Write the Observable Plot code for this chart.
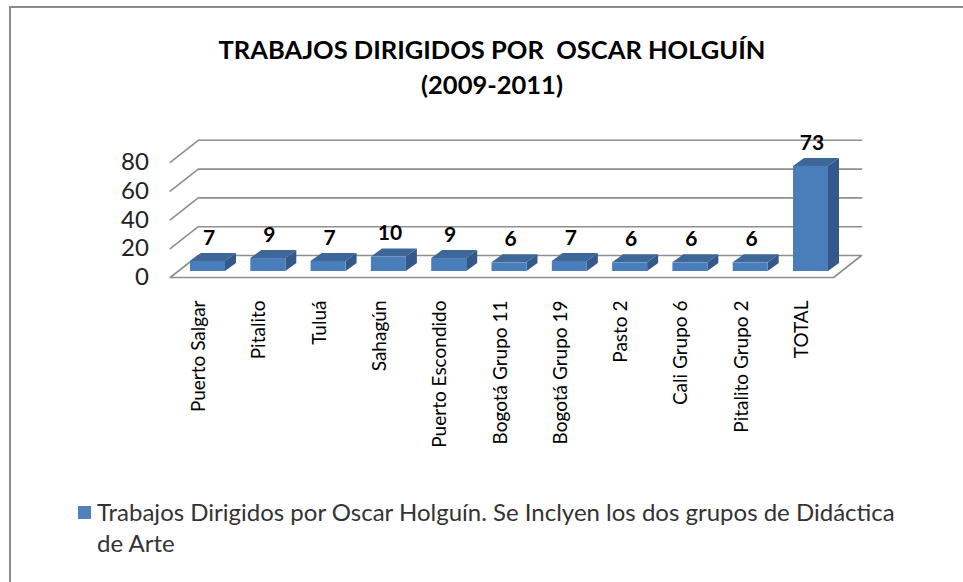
<!DOCTYPE html>
<html><head><meta charset="utf-8">
<script src="https://cdn.jsdelivr.net/npm/d3@7"></script>
<script src="https://cdn.jsdelivr.net/npm/@observablehq/plot@0.6"></script>
<style>
body{margin:0;background:#fff;}
#wrap{position:relative;width:963px;height:582px;overflow:hidden;font-family:Lato,"Open Sans",sans-serif;background:#fff;}
#border{position:absolute;left:9px;top:6px;right:-10px;bottom:-10px;border-top:2px solid #8c8c8c;border-left:2px solid #8c8c8c;}
#chart{position:absolute;left:0;top:0;}
#title{position:absolute;left:0;width:984px;top:32px;text-align:center;font-weight:bold;font-size:25.5px;line-height:35px;white-space:pre;color:#000;}
#legend{position:absolute;left:78px;top:496px;width:860px;}
#legend .sw{position:absolute;left:0;top:10px;width:13px;height:13px;background:#4F81BD;}
#legend .tx{position:absolute;left:19px;top:0;width:800px;font-size:24px;line-height:31px;color:#333;}
</style></head>
<body>
<div id="wrap">
  <div id="border"></div>
  <div id="chart"></div>
  <div id="title"></div>
  <div id="legend"><div class="sw"></div><div class="tx"></div></div>
</div>
<script>
const categories = ["Puerto Salgar","Pitalito","Tuluá","Sahagún","Puerto Escondido","Bogotá Grupo 11","Bogotá Grupo 19","Pasto 2","Cali Grupo 6","Pitalito Grupo 2","TOTAL"];
const values = [7, 9, 7, 10, 9, 6, 7, 6, 6, 6, 73];
const yTicks = [0, 20, 40, 60, 80];
const seriesName = "Trabajos Dirigidos por Oscar Holguín. Se Inclyen los dos grupos de Didáctica de Arte";
const titleLines = ["TRABAJOS DIRIGIDOS POR  OSCAR HOLGUÍN", "(2009-2011)"];

// layout (pixels)
const W = 963, H = 470;
const mLeft = 177.35, mRight = 122.35, mTop = 155.8, mBottom = H - 271;
const xDomain = [-0.5, categories.length - 0.5];
const yDomain = [0, 80];
const kx = (W - mLeft - mRight) / (xDomain[1] - xDomain[0]);
const ky = (H - mTop - mBottom) / (yDomain[1] - yDomain[0]);
// oblique projection offsets, converted from pixels to scale units
const off = (px, py) => [px / kx, -py / ky];
const [fdx, fdy] = off(-7.6, 6);     // front edge of floor
const [wdx, wdy] = off(20.4, -16);   // back wall
const [bdx, bdy] = off(11, -8);      // bar depth
const hb = 17.5 / kx;                // half bar width

const rows = categories.map((c, i) => ({i, c, v: values[i]}));
const sideFaces = rows.flatMap(d => [
  {i: d.i, x: d.i + hb, y1: 0, y2: d.v},
  {i: d.i, x: d.i + hb + bdx, y1: bdy, y2: d.v + bdy}
]);
const topFaces = rows.flatMap(d => [
  {i: d.i, y: d.v, x1: d.i - hb, x2: d.i + hb},
  {i: d.i, y: d.v + bdy, x1: d.i - hb + bdx, x2: d.i + hb + bdx}
]);
const [x0, x1] = xDomain;
const grid = yTicks.filter(t => t > 0).flatMap(t => [
  {t, x: x0 + fdx, y: t + fdy},
  {t, x: x0 + wdx, y: t + wdy},
  {t, x: x1 + wdx, y: t + wdy}
]);
const floor = [
  {x: x0 + fdx, y: fdy}, {x: x1 + fdx, y: fdy},
  {x: x1 + wdx, y: wdy}, {x: x0 + wdx, y: wdy}, {x: x0 + fdx, y: fdy}
];

const gridColor = "#8f8f8f";
const chart = Plot.plot({
  width: W, height: H,
  marginLeft: mLeft, marginRight: mRight, marginTop: mTop, marginBottom: mBottom,
  x: {type: "linear", domain: xDomain},
  y: {type: "linear", domain: yDomain},
  style: {fontFamily: "Lato, 'Open Sans', sans-serif", background: "transparent", overflow: "visible"},
  marks: [
    Plot.line(grid, {x: "x", y: "y", z: "t", stroke: gridColor, strokeWidth: 1.6}),
    Plot.line(floor, {x: "x", y: "y", stroke: gridColor, strokeWidth: 1.6, fill: "white"}),
    Plot.areaY(sideFaces, {x: "x", y1: "y1", y2: "y2", z: "i", fill: "#34588A", curve: "linear"}),
    Plot.areaX(topFaces, {y: "y", x1: "x1", x2: "x2", z: "i", fill: "#3C6798", curve: "linear"}),
    Plot.rect(rows, {x1: d => d.i - hb, x2: d => d.i + hb, y1: 0, y2: "v", fill: "#4A7EBB"}),
    Plot.text(rows, {x: "i", y: "v", text: d => String(d.v), dy: -23.5, dx: 1, fontSize: 21, fontWeight: "bold", fill: "#000"}),
    Plot.axisY(yTicks, {tickSize: 0, tickPadding: 29, dy: 6, fontSize: 24, fill: "#222", label: null}),
    Plot.axisX(rows.map(d => d.i), {tickFormat: i => categories[i], tickRotate: -90, tickSize: 0, tickPadding: 29, dx: -9, fontSize: 19, fill: "#000", label: null})
  ]
});
document.getElementById("chart").appendChild(chart);
document.getElementById("title").textContent = titleLines.join("\n");
document.querySelector("#legend .tx").textContent = seriesName;
</script>
</body></html>
